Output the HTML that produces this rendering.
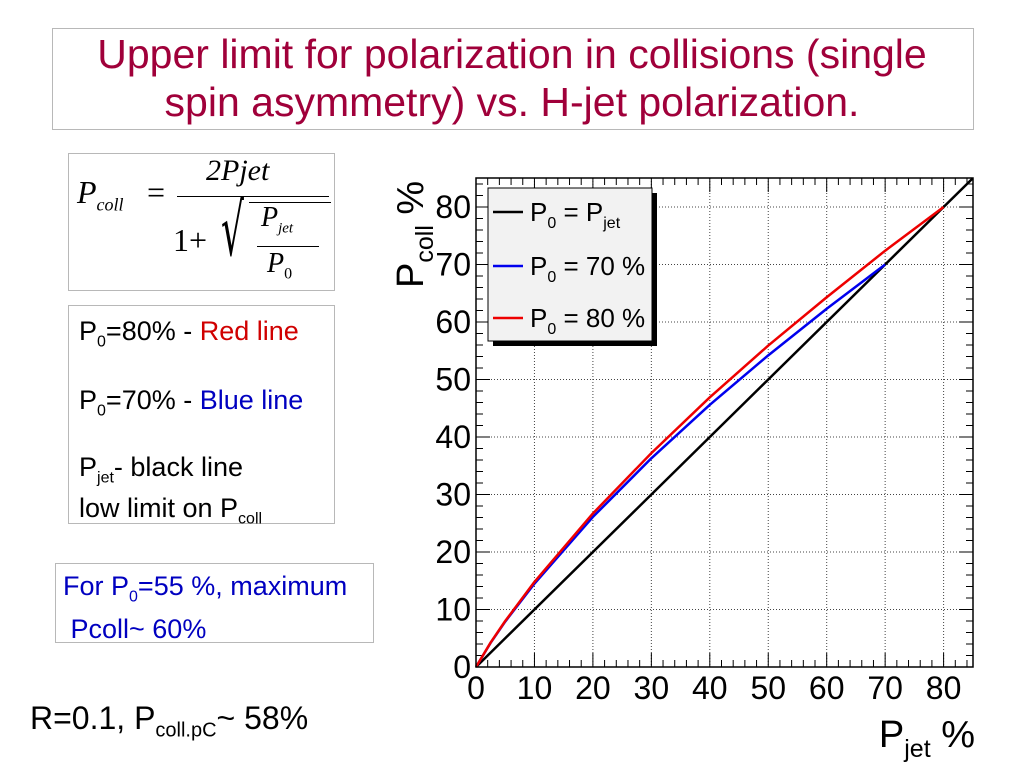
<!DOCTYPE html>
<html><head><meta charset="utf-8"><style>
body{margin:0;width:1024px;height:768px;background:#fff;position:relative;overflow:hidden;font-family:"Liberation Sans",sans-serif}
.abs{position:absolute}
.box{position:absolute;border:1px solid #b8b8b8;background:#fff}
.f{font-family:"Liberation Serif",serif;font-style:italic;position:absolute}
</style></head><body>
<div class="box" style="left:52px;top:28px;width:920px;height:100px"></div>
<div class="abs" style="left:52px;top:30px;width:920px;text-align:center;color:#a0003a;font-size:41px;line-height:48px">Upper limit for polarization in collisions (single<br>spin asymmetry) vs. H-jet polarization.</div>

<div class="box" style="left:68px;top:153px;width:265px;height:136px">
 <span class="f" style="left:8px;top:20px;font-size:32px">P<sub style="font-size:18px">coll</sub></span>
 <span class="f" style="left:78px;top:20px;font-size:32px;font-style:normal">=</span>
 <span class="f" style="left:137px;top:0px;font-size:30px">2Pjet</span>
 <div class="abs" style="left:108px;top:42px;width:152px;border-top:1.5px solid #000"></div>
 <span class="f" style="left:104px;top:68px;font-size:32px;font-style:normal">1+</span>
 <span class="abs" style="left:152px;top:36px;font-size:72px;line-height:80px;font-family:'DejaVu Sans';transform:scaleX(.5);transform-origin:left">√</span>
 <div class="abs" style="left:180px;top:48px;width:82px;border-top:1.5px solid #000"></div>
 <span class="f" style="left:192px;top:48px;font-size:28px">P<sub style="font-size:15px">jet</sub></span>
 <div class="abs" style="left:188px;top:92px;width:62px;border-top:1px solid #000"></div>
 <span class="f" style="left:198px;top:94px;font-size:28px">P<sub style="font-size:16px;font-style:normal">0</sub></span>
</div>

<div class="box" style="left:68px;top:305px;width:265px;height:217px;font-size:27px;line-height:31px">
 <div class="abs" style="left:10px;top:10px;white-space:nowrap">P<sub style="font-size:16px">0</sub>=80% - <span style="color:#d00000">Red line</span></div>
 <div class="abs" style="left:10px;top:79px;white-space:nowrap">P<sub style="font-size:16px">0</sub>=70% - <span style="color:#0000c0">Blue line</span></div>
 <div class="abs" style="left:10px;top:146px;white-space:nowrap">P<sub style="font-size:16px">jet</sub>- black line<br>low limit on P<sub style="font-size:16px">coll</sub></div>
</div>

<div class="box" style="left:55px;top:563px;width:317px;height:78px;color:#0000c0;font-size:27px;line-height:32px">
 <div class="abs" style="left:7px;top:6px;white-space:nowrap">For P<sub style="font-size:16px">0</sub>=55 %, maximum<br>&nbsp;Pcoll~ 60%</div>
</div>
<div class="abs" style="left:30px;top:700px;font-size:32px;white-space:nowrap">R=0.1, P<sub style="font-size:20px">coll.pC</sub>~ 58%</div>

<svg class="abs" style="left:0;top:0" width="1024" height="768">
 <g id="grid"></g><g id="ticks"></g><g id="lines"></g>
 <rect x="476" y="178" width="497" height="489" fill="none" stroke="#000" stroke-width="1.5"/>
 <g id="labels" font-family="Liberation Sans" font-size="32"></g>
 <text x="975" y="747" font-size="38" text-anchor="end" font-family="Liberation Sans">P<tspan font-size="25" dy="10">jet</tspan><tspan dy="-10"> %</tspan></text>
 <text transform="translate(423,288) rotate(-90)" font-size="38" font-family="Liberation Sans">P<tspan font-size="25" dy="10">coll</tspan><tspan dy="-10"> %</tspan></text>
 <g>
  <rect x="493" y="193" width="164" height="153" fill="#000"/>
  <rect x="488" y="188" width="164" height="153" fill="#f2f2f2" stroke="#000"/>
  <line x1="493" y1="212" x2="523" y2="212" stroke="#000" stroke-width="2.5"/>
  <text x="530" y="221" font-size="26" font-family="Liberation Sans">P<tspan font-size="16" dy="7">0</tspan><tspan dy="-7"> = P</tspan><tspan font-size="16" dy="7">jet</tspan></text>
  <line x1="493" y1="266" x2="523" y2="266" stroke="#0000ee" stroke-width="2.5"/>
  <text x="530" y="275" font-size="26" font-family="Liberation Sans">P<tspan font-size="16" dy="7">0</tspan><tspan dy="-7"> = 70 %</tspan></text>
  <line x1="493" y1="318" x2="523" y2="318" stroke="#ee0000" stroke-width="2.5"/>
  <text x="530" y="327" font-size="26" font-family="Liberation Sans">P<tspan font-size="16" dy="7">0</tspan><tspan dy="-7"> = 80 %</tspan></text>
 </g>
</svg>
<script>
const xTicks=[0,10,20,30,40,50,60,70,80];
const yTicks=[0,10,20,30,40,50,60,70,80];
const blackX=[0,85];
const blackY=[0,85];
const blueX=[0,2.5,5,10,20,30,40,50,60,70];
const blueY=[0,4.2,7.9,14.5,26.1,36.3,45.6,54.2,62.3,70];
const redX=[0,2.5,5,10,20,30,40,50,60,70,80];
const redY=[0,4.25,8.0,14.8,26.7,37.2,46.9,55.9,64.3,72.4,80];
const X0=476,XS=5.845,Y0=667,YS=5.75;
const sx=v=>X0+v*XS, sy=v=>Y0-v*YS;
const NS='http://www.w3.org/2000/svg';
const mk=(t,a,p)=>{const e=document.createElementNS(NS,t);for(const k in a)e.setAttribute(k,a[k]);p.appendChild(e);return e;};
const G=document.getElementById('grid'),T=document.getElementById('ticks'),L=document.getElementById('lines'),LB=document.getElementById('labels');
xTicks.forEach(v=>{
 const g=mk('line',{x1:sx(v),x2:sx(v),y1:178,y2:667,stroke:'#444','stroke-dasharray':'1,2','stroke-width':1},G);
 
 
 const t=mk('text',{x:sx(v),y:699,'text-anchor':'middle'},LB);t.textContent=v;
 
 
});
yTicks.forEach(v=>{
 const g=mk('line',{x1:476,x2:973,y1:sy(v),y2:sy(v),stroke:'#444','stroke-dasharray':'1,2','stroke-width':1},G);
 
 
 const t=mk('text',{x:471,y:sy(v)+11,'text-anchor':'end'},LB);t.textContent=v;
 
 
});
for(let v=0;v<=85;v+=2){const big=v%10==0;const len=big?14:7;
 mk('line',{x1:sx(v),x2:sx(v),y1:667,y2:667-len,stroke:'#000'},T);
 mk('line',{x1:sx(v),x2:sx(v),y1:178,y2:178+len,stroke:'#000'},T);
 mk('line',{x1:476,x2:476+len,y1:sy(v),y2:sy(v),stroke:'#000'},T);
 mk('line',{x1:973,x2:973-len,y1:sy(v),y2:sy(v),stroke:'#000'},T);}
function series(xs,ys,c,n){const d=xs.map((x,i)=>(i?'L':'M')+sx(x)+','+sy(ys[i])).join('');
 const p=mk('path',{d:d,fill:'none',stroke:c,'stroke-width':2.5,'stroke-linejoin':'round'},L);
 
 }
series(blackX,blackY,'#000','line-p0-equals-pjet');
series(blueX,blueY,'#0000ee','line-p0-70');
series(redX,redY,'#ee0000','line-p0-80');
</script>
</body></html>
